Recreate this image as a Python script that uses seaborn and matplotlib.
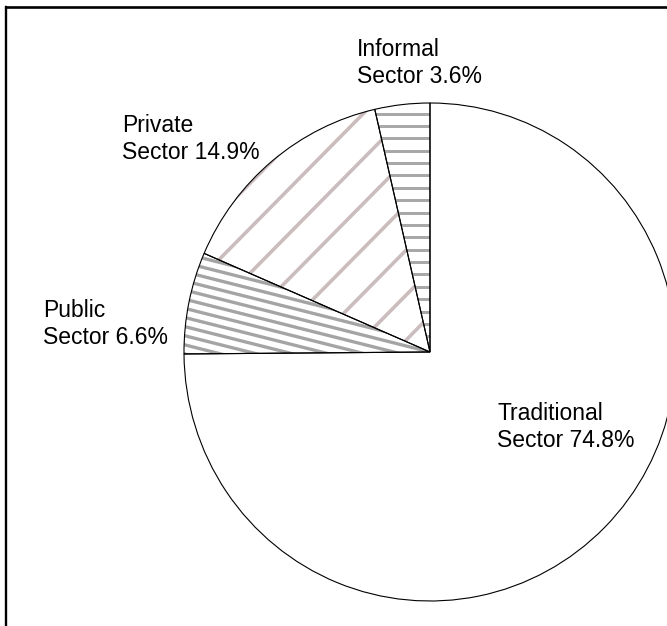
import numpy as np
import matplotlib
matplotlib.use('Agg')
import matplotlib.pyplot as plt
from matplotlib.lines import Line2D
from matplotlib.patches import Wedge
import seaborn as sns

sectors = ['Traditional', 'Public', 'Private', 'Informal']
shares = [74.8, 6.6, 14.9, 3.6]
labels = ['Traditional\nSector 74.8%', 'Public\nSector 6.6%',
          'Private\nSector 14.9%', 'Informal\nSector 3.6%']

sns.set_theme(style='white')
plt.rcParams['font.family'] = ['Liberation Sans', 'DejaVu Sans']

W, H = 667, 626
fig = plt.figure(figsize=(W / 100, H / 100), dpi=100)
fig.patch.set_facecolor('white')
ax = fig.add_axes([0, 0, 1, 1])
cx, cy, Rx, Ry = 430, 352, 246, 249

wedges, _ = ax.pie(shares, startangle=90, counterclock=False, radius=1,
                   colors=['white'] * 4,
                   wedgeprops=dict(edgecolor='none', linewidth=0, zorder=1))
ax.set_aspect('auto')
ax.set_xlim(-cx / Rx, (W - cx) / Rx)
ax.set_ylim(-(H - cy) / Ry, cy / Ry)
ax.axis('off')

R = (Rx + Ry) / 2
# hatch style: angle (deg), spacing px, colour, line width px, phase px
hatch = {
    'Public': (-14, 8.8, '#a4a4a4', 3.3, 0.0),
    'Private': (45, 31.6, '#cbbdbd', 3.6, 25.4),
    'Informal': (0, 12.3, '#a8a8a8', 3.0, 3.3),
}

for w, name in zip(wedges, sectors):
    if name in hatch:
        ang, sp, col, lwpx, ph = hatch[name]
        th = np.deg2rad(ang)
        d = np.array([np.cos(th), np.sin(th)])
        n = np.array([-np.sin(th), np.cos(th)])
        for s in np.arange(-60, 60) * sp / R + ph / R:
            if abs(s) > 1.05:
                continue
            p0 = n * s - d * 1.6
            p1 = n * s + d * 1.6
            ln, = ax.plot([p0[0], p1[0]], [p0[1], p1[1]], color=col,
                          lw=lwpx * 0.72, solid_capstyle='butt', zorder=2)
            ln.set_clip_path(w)
    ax.add_patch(Wedge(w.center, w.r, w.theta1, w.theta2, fill=False,
                       edgecolor='black', linewidth=0.8, zorder=3))

# labels: left x, top y in pixels
label_pos = [(497, 402), (43, 299), (122, 114), (357, 38)]
for lab, (lx, ly) in zip(labels, label_pos):
    fig.text(lx / W, 1 - ly / H, lab, ha='left', va='top', fontsize=16.5,
             color='black', linespacing=1.24)

# frame (left and top edges)
fig.add_artist(Line2D([6 / W, 6 / W], [0, 1 - 7.3 / H], color='black', lw=1.7,
                      solid_capstyle='projecting'))
fig.add_artist(Line2D([6 / W, 1], [1 - 7.3 / H, 1 - 7.3 / H], color='black',
                      lw=1.9, solid_capstyle='projecting'))

fig.savefig('out.png', dpi=100, facecolor='white')
